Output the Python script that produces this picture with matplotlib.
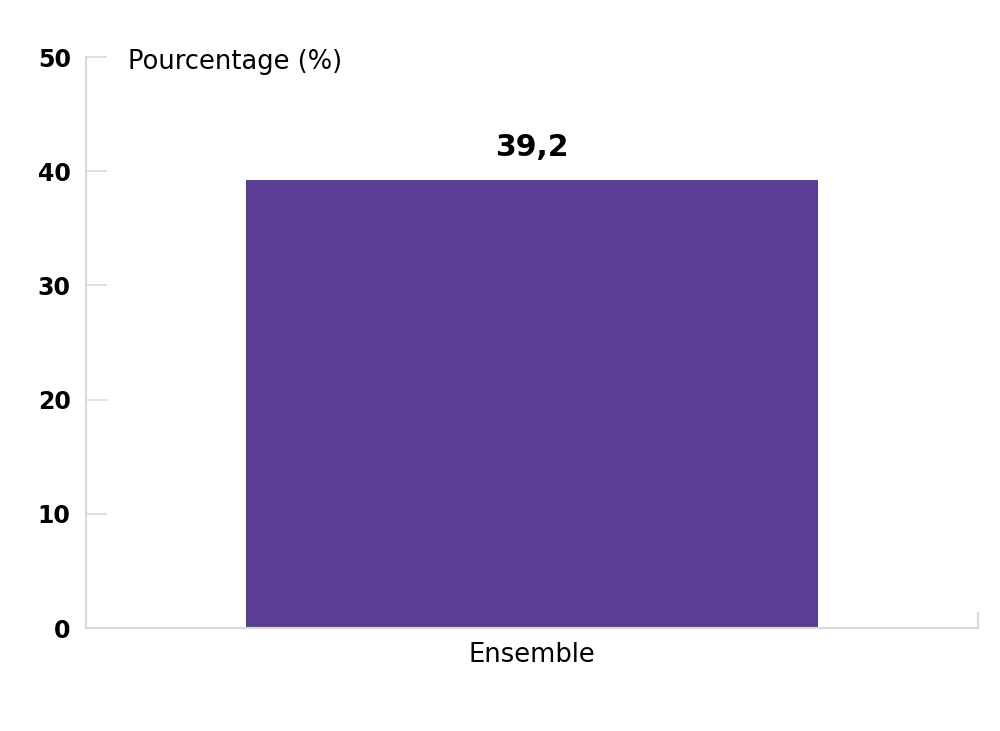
import matplotlib.pyplot as plt

categories = ["Ensemble"]
values = [39.2]
value_labels = ["39,2"]
y_ticks = [0, 10, 20, 30, 40, 50]

plt.rcParams['font.family'] = ['DejaVu Sans']

fig = plt.figure(figsize=(10, 7.31), dpi=100)
ax = fig.add_axes([0.086, 0.1409, 0.892, 0.781])

bars = ax.bar(categories, values, width=0.642, color='#5a3e96')
for bar, lab in zip(bars, value_labels):
    ax.text(bar.get_x() + bar.get_width() / 2, bar.get_height() + 1.6, lab,
            ha='center', va='bottom', fontsize=21.5, fontweight='bold', color='black')

ax.set_xlim(-0.5, 0.5)
ax.set_ylim(0, 50)
ax.set_yticks(y_ticks)
ax.set_yticklabels([str(t) for t in y_ticks], fontsize=17, fontweight='bold')
ax.tick_params(axis='y', direction='in', length=15, width=1.2, color='#d9d9d9', pad=11)
ax.tick_params(axis='x', length=0, pad=10, labelsize=18.5)

ax.spines['top'].set_visible(False)
for side in ['left', 'bottom', 'right']:
    ax.spines[side].set_color('#d9d9d9')
    ax.spines[side].set_linewidth(1.5)
ax.spines['right'].set_bounds(0, 1.3)

ax.text(0.047, 49.6, "Pourcentage (%)", transform=ax.get_yaxis_transform(),
        ha='left', va='center', fontsize=18.5)

fig.savefig('out.png', dpi=100)
